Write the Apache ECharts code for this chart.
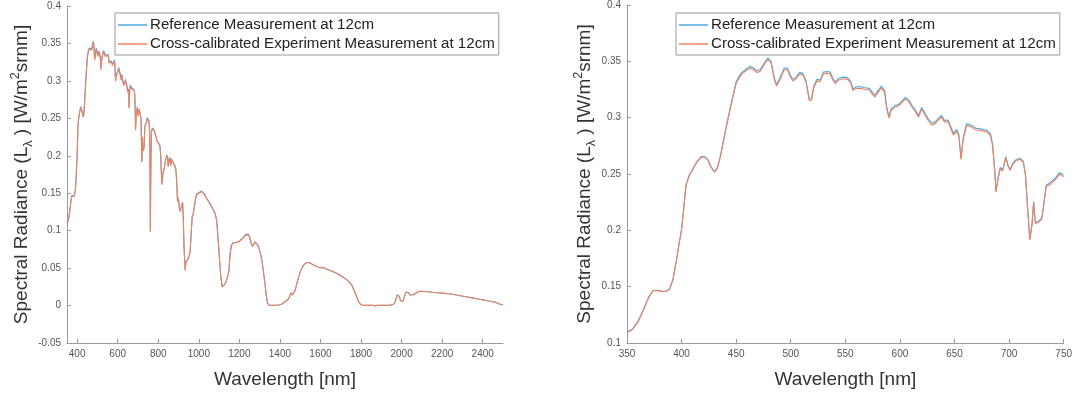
<!DOCTYPE html>
<html>
<head>
<meta charset="utf-8">
<script src="https://cdn.jsdelivr.net/npm/echarts@6/dist/echarts.min.js"></script>
<style>
  html, body { margin: 0; padding: 0; background: #fff; }
  #chart { width: 1075px; height: 394px; }
</style>
</head>
<body>
<div id="chart"></div>
<script>
// Wavelength samples [nm]
const wavelength = [
  350,355,360,365,370,374,378,382,386,389,392,395,398,400,402,404,407,410,414,418,421,424,427,430,433,436,440,445,450,455,460,463,466,469,472,476,479,482,485,487,490,494,497,500,502,505,508,511,514,517,519,521,524,527,530,533,536,539,541,544,548,552,555,557,560,564,568,572,575,577,580,583,586,588,590,592,595,599,602,605,608,611,614,617,620,623,626,629,632,635,638,641,644,646,649,652,654,656,658,661,665,670,675,680,683,685,687,688,690,692,694,695,697,699,701,703,706,710,713,715,717,719,721,722.5,724,727,730,732,734,738,742,746,748,750,
  754,758,760,761,762,764,767,772,780,788,795,802,808,812,815,818,821,825,830,836,842,846,849,853,857,861,865,870,876,882,887,891,895,899,904,908,912,916,920,923,927,930,933,936,940,944,950,957,962,967,972,978,984,990,1000,1008,1015,1022,1030,1040,1050,1060,1070,1080,1088,1095,1102,1108,1115,1121,1127,1135,1142,1148,1154,1160,1168,1176,1184,1192,1200,1210,1220,1230,1238,1245,1252,1258,1264,1270,1276,1282,1288,1295,1302,1310,1318,1325,1332,1338,1345,1355,1370,1390,1410,1425,1440,1448,1455,1462,1468,1476,1484,1492,1500,1510,1520,1530,1540,1550,1560,1568,1575,1582,1590,1600,1608,1615,1622,1640,1660,1680,1700,1720,1740,1755,1765,1775,1785,1795,1805,1830,1860,1870,1880,1910,1940,1960,1970,1977,1983,1989,1995,2001,2007,2015,2022,2028,2035,2042,2050,2058,2066,2080,2095,2110,2130,2150,2170,2190,2210,2230,2250,2270,2290,2310,2330,2350,2370,2390,2410,2430,2450,2465,2480,2490,2500
];

// Reference measurement at 12 cm [W/m^2 sr nm]
const referenceRadiance = [
  0.1095,0.1125,0.1190,0.1295,0.1410,0.1468,0.1468,0.1458,0.1462,0.1480,0.1560,0.1720,0.1900,0.2010,0.2200,0.2400,0.2490,0.2540,0.2610,0.2655,0.2655,0.2630,0.2565,0.2520,0.2560,0.2680,0.2880,0.3110,0.3320,0.3400,0.3440,0.3455,0.3440,0.3415,0.3425,0.3490,0.3530,0.3500,0.3350,0.3295,0.3350,0.3440,0.3440,0.3370,0.3340,0.3360,0.3400,0.3395,0.3330,0.3165,0.3170,0.3280,0.3340,0.3335,0.3405,0.3410,0.3405,0.3340,0.3320,0.3350,0.3360,0.3355,0.3320,0.3255,0.3275,0.3275,0.3265,0.3260,0.3220,0.3200,0.3240,0.3280,0.3240,0.3090,0.3010,0.3080,0.3105,0.3120,0.3150,0.3180,0.3160,0.3110,0.3070,0.3020,0.3090,0.3040,0.2990,0.2950,0.2960,0.2990,0.3020,0.2975,0.2980,0.2935,0.2860,0.2895,0.2850,0.2640,0.2820,0.2945,0.2935,0.2905,0.2900,0.2885,0.2855,0.2760,0.2510,0.2345,0.2470,0.2560,0.2535,0.2570,0.2655,0.2580,0.2540,0.2590,0.2625,0.2640,0.2615,0.2500,0.2200,0.1920,0.2050,0.2255,0.2070,0.2080,0.2110,0.2250,0.2400,0.2425,0.2460,0.2510,0.2505,0.2490,
  0.2470,0.2300,0.1500,0.0990,0.1400,0.2000,0.2340,0.2370,0.2340,0.2270,0.2200,0.2170,0.2140,0.2020,0.1800,0.1620,0.1700,0.1800,0.1840,0.1950,0.2010,0.1980,0.1860,0.1950,0.1980,0.1870,0.1960,0.1950,0.1900,0.1870,0.1820,0.1650,0.1390,0.1440,0.1300,0.1260,0.1280,0.1340,0.1380,0.1200,0.0800,0.0600,0.0470,0.0580,0.0600,0.0580,0.0640,0.0720,0.0950,0.1180,0.1220,0.1320,0.1440,0.1490,0.1510,0.1510,0.1530,0.1520,0.1480,0.1430,0.1390,0.1340,0.1290,0.1240,0.1140,0.0900,0.0620,0.0400,0.0250,0.0225,0.0280,0.0320,0.0340,0.0450,0.0680,0.0800,0.0840,0.0850,0.0845,0.0865,0.0860,0.0885,0.0910,0.0950,0.0965,0.0950,0.0910,0.0840,0.0790,0.0820,0.0850,0.0850,0.0820,0.0780,0.0720,0.0620,0.0470,0.0320,0.0150,0.0040,0.0008,0.0003,0.0002,0.0005,0.0020,0.0050,0.0080,0.0120,0.0170,0.0140,0.0150,0.0210,0.0300,0.0380,0.0450,0.0510,0.0550,0.0572,0.0578,0.0570,0.0550,0.0525,0.0530,0.0520,0.0512,0.0505,0.0495,0.0508,0.0495,0.0475,0.0455,0.0430,0.0400,0.0365,0.0320,0.0270,0.0210,0.0140,0.0070,0.0025,0.0005,0.0002,0.0003,-0.0005,0.0002,0.0002,0.0005,0.0015,0.0060,0.0140,0.0160,0.0120,0.0060,0.0040,0.0060,0.0130,0.0180,0.0190,0.0170,0.0140,0.0130,0.0145,0.0170,0.0180,0.0190,0.0188,0.0185,0.0178,0.0172,0.0168,0.0163,0.0158,0.0150,0.0140,0.0132,0.0120,0.0112,0.0103,0.0092,0.0080,0.0072,0.0060,0.0050,0.0042,0.0025,0.0015,0.0010
];

// Cross-calibrated experiment measurement at 12 cm [W/m^2 sr nm]
const crossCalRadiance = [
  0.1090,0.1120,0.1185,0.1290,0.1405,0.1465,0.1465,0.1455,0.1460,0.1478,0.1555,0.1715,0.1895,0.2005,0.2195,0.2395,0.2485,0.2535,0.2605,0.2650,0.2650,0.2625,0.2560,0.2515,0.2555,0.2670,0.2870,0.3095,0.3305,0.3385,0.3425,0.3440,0.3425,0.3400,0.3410,0.3475,0.3515,0.3485,0.3335,0.3280,0.3335,0.3425,0.3425,0.3355,0.3325,0.3345,0.3385,0.3380,0.3315,0.3150,0.3155,0.3265,0.3325,0.3320,0.3390,0.3395,0.3390,0.3325,0.3305,0.3335,0.3345,0.3340,0.3305,0.3240,0.3260,0.3260,0.3250,0.3245,0.3205,0.3185,0.3225,0.3265,0.3225,0.3075,0.2995,0.3065,0.3090,0.3105,0.3135,0.3165,0.3145,0.3095,0.3055,0.3005,0.3075,0.3025,0.2975,0.2935,0.2945,0.2975,0.3005,0.2960,0.2965,0.2920,0.2845,0.2880,0.2835,0.2630,0.2805,0.2930,0.2920,0.2890,0.2885,0.2870,0.2840,0.2745,0.2500,0.2340,0.2460,0.2550,0.2525,0.2560,0.2645,0.2570,0.2530,0.2580,0.2615,0.2630,0.2605,0.2490,0.2190,0.1915,0.2045,0.2250,0.2060,0.2070,0.2100,0.2240,0.2390,0.2410,0.2445,0.2495,0.2490,0.2475,
  0.2460,0.2290,0.1495,0.0985,0.1395,0.1990,0.2330,0.2360,0.2330,0.2260,0.2190,0.2160,0.2130,0.2010,0.1790,0.1615,0.1695,0.1790,0.1830,0.1940,0.2000,0.1970,0.1855,0.1940,0.1970,0.1865,0.1950,0.1940,0.1890,0.1860,0.1810,0.1645,0.1385,0.1435,0.1295,0.1255,0.1275,0.1335,0.1375,0.1195,0.0795,0.0595,0.0470,0.0575,0.0595,0.0575,0.0635,0.0715,0.0945,0.1175,0.1215,0.1315,0.1430,0.1480,0.1500,0.1500,0.1520,0.1510,0.1470,0.1420,0.1380,0.1330,0.1280,0.1230,0.1135,0.0895,0.0615,0.0398,0.0249,0.0224,0.0279,0.0319,0.0339,0.0449,0.0676,0.0795,0.0835,0.0845,0.0840,0.0860,0.0855,0.0880,0.0902,0.0940,0.0955,0.0940,0.0902,0.0835,0.0786,0.0815,0.0845,0.0845,0.0816,0.0776,0.0717,0.0618,0.0468,0.0319,0.0150,0.0040,0.0008,0.0003,0.0002,0.0005,0.0020,0.0050,0.0080,0.0120,0.0170,0.0140,0.0150,0.0210,0.0300,0.0380,0.0450,0.0510,0.0550,0.0570,0.0576,0.0568,0.0549,0.0524,0.0529,0.0519,0.0511,0.0504,0.0494,0.0507,0.0494,0.0474,0.0454,0.0429,0.0399,0.0364,0.0319,0.0269,0.0210,0.0140,0.0070,0.0025,0.0005,0.0002,0.0003,-0.0005,0.0002,0.0002,0.0005,0.0015,0.0060,0.0140,0.0160,0.0120,0.0060,0.0040,0.0060,0.0130,0.0180,0.0190,0.0170,0.0140,0.0130,0.0145,0.0170,0.0180,0.0190,0.0188,0.0185,0.0178,0.0172,0.0168,0.0163,0.0158,0.0150,0.0140,0.0132,0.0120,0.0112,0.0103,0.0092,0.0080,0.0072,0.0060,0.0050,0.0042,0.0025,0.0015,0.0010
];

// Tick labels of the full-range wavelength axis
const fullRangeTicks = [400, 600, 800, 1000, 1200, 1400, 1600, 1800, 2000, 2200, 2400];

const seriesNames = ['Reference Measurement at 12cm', 'Cross-calibrated Experiment Measurement at 12cm'];
const lineColors = ['#4fa6e0', '#f0835e'];

const pairs = (ys, maxX) => wavelength
  .map((x, i) => [x, ys[i]])
  .filter(p => maxX === undefined || p[0] <= maxX);

const FONT = '"Liberation Sans", Arial, Helvetica, sans-serif';
const AXIS_GRAY = '#9a9a9a';
const plainNumber = v => String(Math.round(v * 1000) / 1000);

function xAxisCfg(gridIndex, extra) {
  return Object.assign({
    type: 'value', gridIndex,
    name: 'Wavelength [nm]', nameLocation: 'middle', nameGap: 27, nameMoveOverlap: false,
    nameTextStyle: { fontSize: 19, color: '#333', fontFamily: FONT },
    axisLine: { show: true, onZero: false, lineStyle: { color: AXIS_GRAY, width: 1 } },
    axisTick: { inside: true, length: 4, lineStyle: { color: AXIS_GRAY } },
    axisLabel: { fontSize: 10, color: '#555', fontFamily: FONT, margin: 6, formatter: plainNumber },
    splitLine: { show: false }
  }, extra);
}

function yAxisCfg(gridIndex, extra, gap) {
  return Object.assign({
    type: 'value', gridIndex,
    name: 'Spectral Radiance (L{sub|λ} ) [W/m{sup|2}srnm]',
    nameLocation: 'middle', nameGap: gap, nameRotate: 90, nameMoveOverlap: false,
    nameTextStyle: {
      fontSize: 19, color: '#333', fontFamily: FONT, lineHeight: 26,
      rich: {
        sub: { fontSize: 12.5, color: '#333', fontFamily: FONT, lineHeight: 12, verticalAlign: 'bottom' },
        sup: { fontSize: 12.5, color: '#333', fontFamily: FONT, lineHeight: 12, verticalAlign: 'top' }
      }
    },
    axisLine: { show: true, onZero: false, lineStyle: { color: AXIS_GRAY, width: 1 } },
    axisTick: { inside: true, length: 4, lineStyle: { color: AXIS_GRAY } },
    axisLabel: { fontSize: 10, color: '#555', fontFamily: FONT, margin: 6, formatter: plainNumber },
    splitLine: { show: false }
  }, extra);
}

function legendCfg(left, top) {
  return {
    orient: 'vertical', left, top,
    data: seriesNames,
    icon: 'rect', itemWidth: 29, itemHeight: 1.5, itemGap: 1,
    backgroundColor: '#fff',
    borderColor: AXIS_GRAY, borderWidth: 1, borderRadius: 0,
    padding: [3, 4, 2, 3],
    selectedMode: false,
    textStyle: { fontSize: 15.1, lineHeight: 18, color: '#222', fontFamily: FONT, padding: [0, 0, 0, -2] }
  };
}

function lineSeries(name, color, xi, data) {
  return {
    name, type: 'line', xAxisIndex: xi, yAxisIndex: xi,
    data, showSymbol: false, symbol: 'none',
    lineStyle: { color, width: 1.1 }, itemStyle: { color },
    animation: false, clip: true
  };
}

const chart = echarts.init(document.getElementById('chart'), null, { renderer: 'canvas' });
chart.setOption({
  backgroundColor: '#fff',
  animation: false,
  grid: [
    { left: 67, top: 6, width: 436, height: 345 },
    { left: 627, top: 5, width: 437, height: 346 }
  ],
  legend: [legendCfg(115, 13), legendCfg(676, 13)],
  xAxis: [
    xAxisCfg(0, {
      min: 350, max: 2500,
      axisTick: { inside: true, length: 4, lineStyle: { color: AXIS_GRAY }, customValues: fullRangeTicks },
      axisLabel: { fontSize: 10, color: '#555', fontFamily: FONT, margin: 6, formatter: plainNumber, customValues: fullRangeTicks }
    }),
    xAxisCfg(1, { min: 350, max: 750, interval: 50 })
  ],
  yAxis: [
    yAxisCfg(0, { min: -0.05, max: 0.4, interval: 0.05 }, 32),
    yAxisCfg(1, { min: 0.1, max: 0.4, interval: 0.05 }, 29)
  ],
  series: [
    lineSeries(seriesNames[0], lineColors[0], 0, pairs(referenceRadiance)),
    lineSeries(seriesNames[1], lineColors[1], 0, pairs(crossCalRadiance)),
    lineSeries(seriesNames[0], lineColors[0], 1, pairs(referenceRadiance, 750)),
    lineSeries(seriesNames[1], lineColors[1], 1, pairs(crossCalRadiance, 750))
  ]
});
</script>
</body>
</html>
